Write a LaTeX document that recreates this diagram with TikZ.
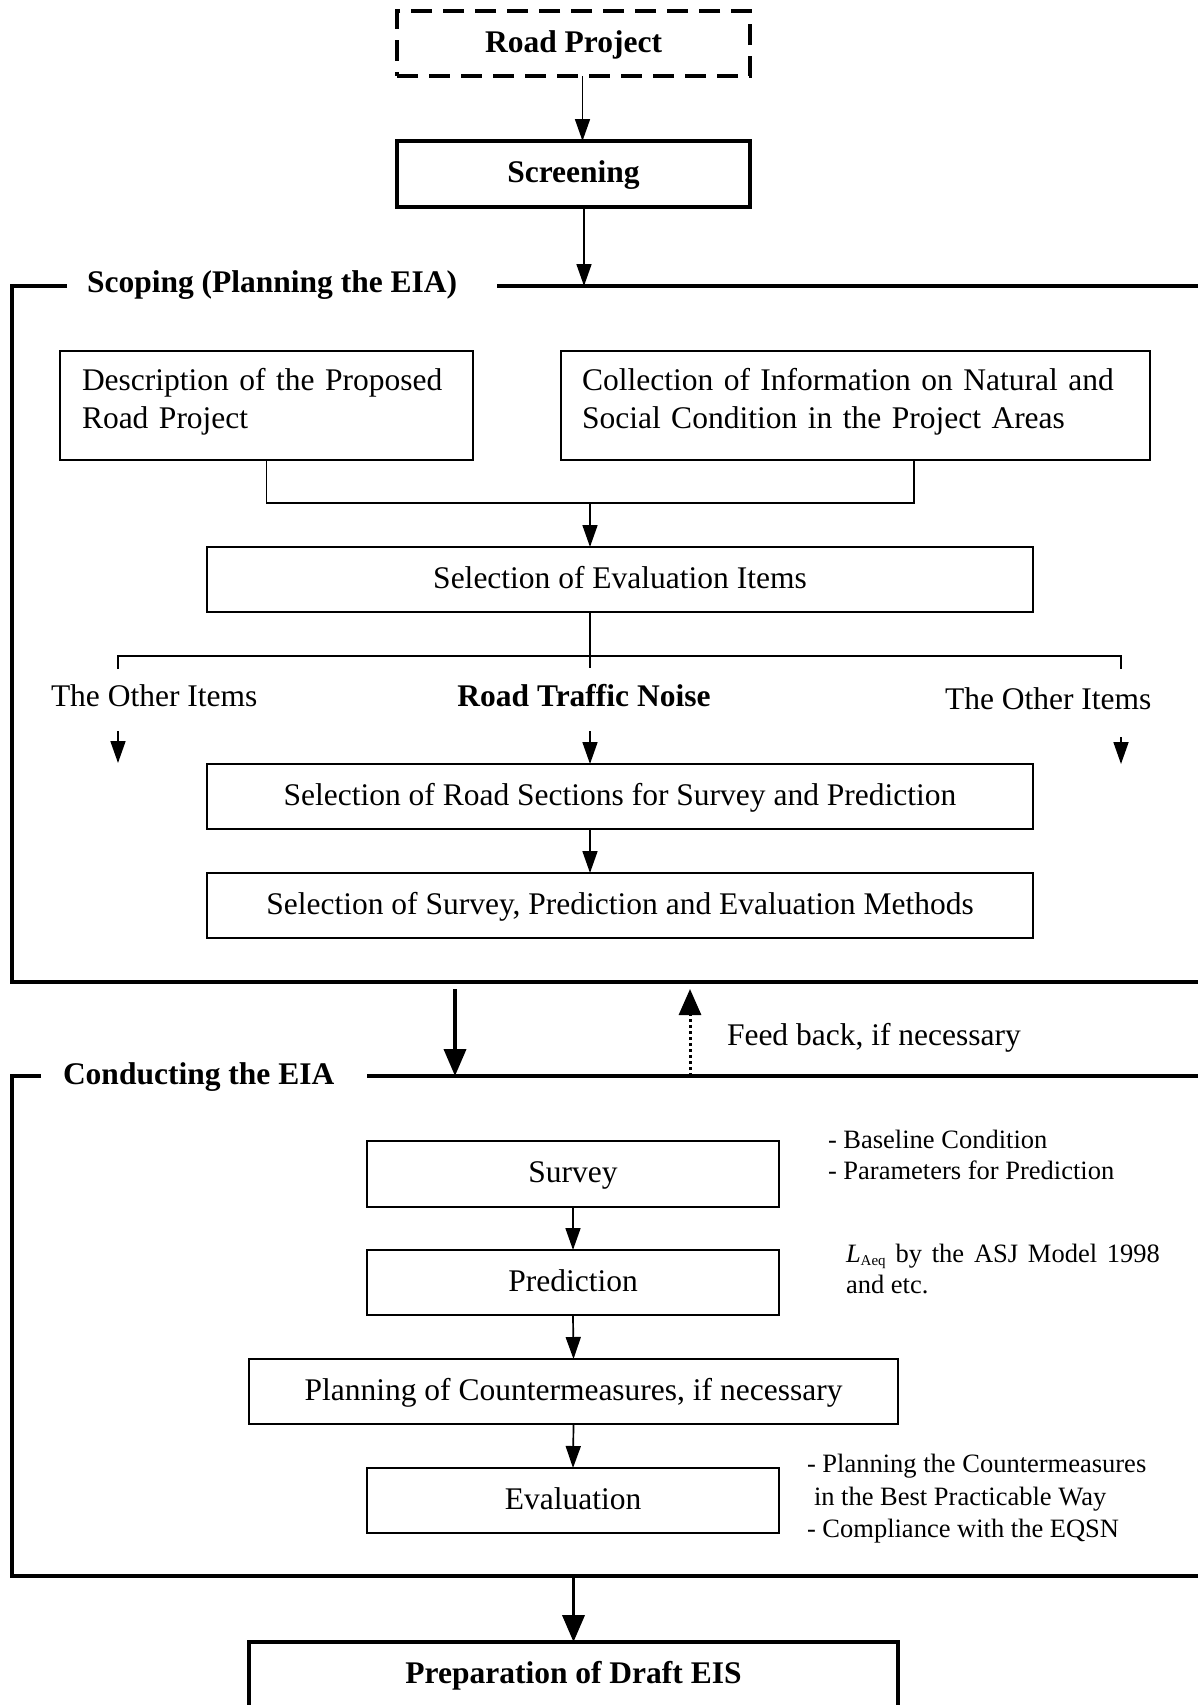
\documentclass[tikz,border=0pt]{standalone}
\usepackage{fontspec}
\setmainfont{Liberation Serif}
\usetikzlibrary{arrows.meta}
\begin{document}
\begin{tikzpicture}[x=1pt,y=-1pt,
  every node/.style={inner sep=0pt, outer sep=0pt},
  oneline/.style={text height=23pt, text depth=6pt},
  mainfont/.style={font=\fontsize{31.5}{38}\selectfont},
  notefont/.style={font=\fontsize{26.5}{31.5}\selectfont},
  boldfont/.style={font=\fontsize{31.5}{38}\selectfont\bfseries},
  tbox/.style={draw, line width=1.7pt, mainfont},
  kbox/.style={draw, line width=3.8pt, boldfont, oneline},
  frameline/.style={line width=3.8pt},
  conn/.style={line width=1.7pt},
  arr/.style={line width=1.7pt, -{Triangle[width=15pt,length=22pt]}},
  bigarr/.style={line width=3.8pt, -{Triangle[width=22pt,length=27pt]}},
  fbarr/.style={line width=3pt, dash pattern=on 3pt off 3pt, -{Triangle[width=22pt,length=26pt]}},
]
\useasboundingbox (0,0) rectangle (1198,1705);
\clip (0,0) rectangle (1198,1705);
\fill[white] (0,0) rectangle (1198,1705);

% --- top boxes
\node[kbox, dash pattern=on 21pt off 11pt, minimum width=353pt, minimum height=65pt] (rp) at (573.5,43.5) {Road Project};
\node[kbox, minimum width=353pt, minimum height=66pt] (scr) at (573.5,174) {Screening};
\coordinate (rpout) at ([xshift=9pt]rp.south);
\draw[arr] (rpout) -- (rpout |- scr.north);

% --- scoping frame
\coordinate (sctop) at (0,286);
\draw[frameline] (67,286) -- (12,286) -- (12,982) -- (1240,982) -- (1240,286) -- (497,286);
\node[boldfont, oneline, anchor=west] (sct) at (87,283.5) {Scoping (Planning the EIA)};
\coordinate (scrout) at ([xshift=10.5pt]scr.south);
\draw[arr] (scrout) -- (scrout |- sctop);

\node[tbox, text width=369pt, inner xsep=22pt, align=left, minimum height=109pt] (desc) at (266.5,405.5)
  {Description of the Proposed\\Road Project\rule[-13.5pt]{0pt}{1pt}};
\node[tbox, text width=547pt, inner xsep=21pt, align=left, minimum height=109pt] (coll) at (855.5,405.5)
  {\makebox[547pt][s]{Collection of Information on Natural and}\\Social Condition in the Project Areas\rule[-13.5pt]{0pt}{1pt}};
\draw[conn] (desc.south) -- ++(0,43) -| ([xshift=58.5pt]coll.south);

\node[tbox, oneline, minimum width=826pt, minimum height=65pt] (sel) at (620,579.5) {Selection of Evaluation Items};
\draw[arr] ([xshift=-30pt,yshift=44pt]sel.north) -- ([xshift=-30pt]sel.north);

\coordinate (bl) at (118,656);
\coordinate (br) at (1121,656);
\draw[conn] ([xshift=-30pt]sel.south) -- ++(0,56);
\draw[conn] (bl) ++(0,13) -- (bl) -- (br) -- ++(0,13);

\node[mainfont, oneline, anchor=west] (oth1) at (51,698) {The Other Items};
\node[boldfont, oneline] (rtn) at (584,698) {Road Traffic Noise};
\node[mainfont, oneline, anchor=west] (oth2) at (945,701) {The Other Items};

\node[tbox, oneline, minimum width=826pt, minimum height=65pt] (rs) at (620,796.5) {Selection of Road Sections for Survey and Prediction};
\node[tbox, oneline, minimum width=826pt, minimum height=65pt] (sm) at (620,905.5) {Selection of Survey, Prediction and Evaluation Methods};

\coordinate (la) at (118,731);
\coordinate (ca) at (590,731);
\coordinate (ra) at (1121,737);
\draw[arr] (la) -- ++(0,32);
\draw[arr] (ca) -- (ca |- rs.north);
\draw[arr] (ra) -- ++(0,27);
\draw[arr] ([xshift=-30pt]rs.south) -- ([xshift=-30pt]sm.north);

% --- between frames
\coordinate (cttop) at (0,1076);
\coordinate (dnA) at (455,989);
\draw[bigarr] (dnA) -- (dnA |- cttop);
\coordinate (upA) at (690,1076);
\draw[fbarr] (upA) -- ++(0,-87);
\node[mainfont, oneline, anchor=west] (fb) at (727,1036.5) {Feed back, if necessary};

% --- conducting frame
\draw[frameline] (41,1076) -- (12,1076) -- (12,1576) -- (1240,1576) -- (1240,1076) -- (367,1076);
\node[boldfont, oneline, anchor=west] (cct) at (63,1075.5) {Conducting the EIA};

\node[tbox, oneline, minimum width=412pt, minimum height=66pt] (sv) at (573,1174) {Survey};
\node[tbox, oneline, minimum width=412pt, minimum height=65pt] (pr) at (573,1282.5) {Prediction};
\node[tbox, oneline, minimum width=649pt, minimum height=65pt] (pc) at (573.5,1391.5) {Planning of Countermeasures, if necessary};
\node[tbox, oneline, minimum width=412pt, minimum height=65pt] (ev) at (573,1500.5) {Evaluation};
\draw[arr] (sv.south) -- (pr.north);
\draw[arr] (pr.south) -- (pc.north);
\draw[arr] (pc.south) -- (ev.north);

\node[notefont, anchor=west, align=left] (n1) at (828,1155) {- Baseline Condition\\- Parameters for Prediction};
\node[notefont, anchor=west, align=left] (n2) at (846,1269)
  {\makebox[314pt][s]{{\itshape L}\raisebox{-3pt}{\fontsize{15}{15}\selectfont Aeq} by the ASJ Model 1998}\\and etc.};
\node[font=\fontsize{26.5}{32.5}\selectfont, anchor=west, align=left] (n3) at (807,1499)
  {- Planning the Countermeasures\\\hspace*{7pt}in the Best Practicable Way\\- Compliance with the EQSN};

% --- final box
\node[kbox, minimum width=649pt, minimum height=66pt, anchor=north] (prep) at (573.5,1642) {Preparation of Draft EIS};
\coordinate (ctbot) at (0,1576);
\draw[bigarr] (prep.north |- ctbot) -- (prep.north);
\end{tikzpicture}
\end{document}
